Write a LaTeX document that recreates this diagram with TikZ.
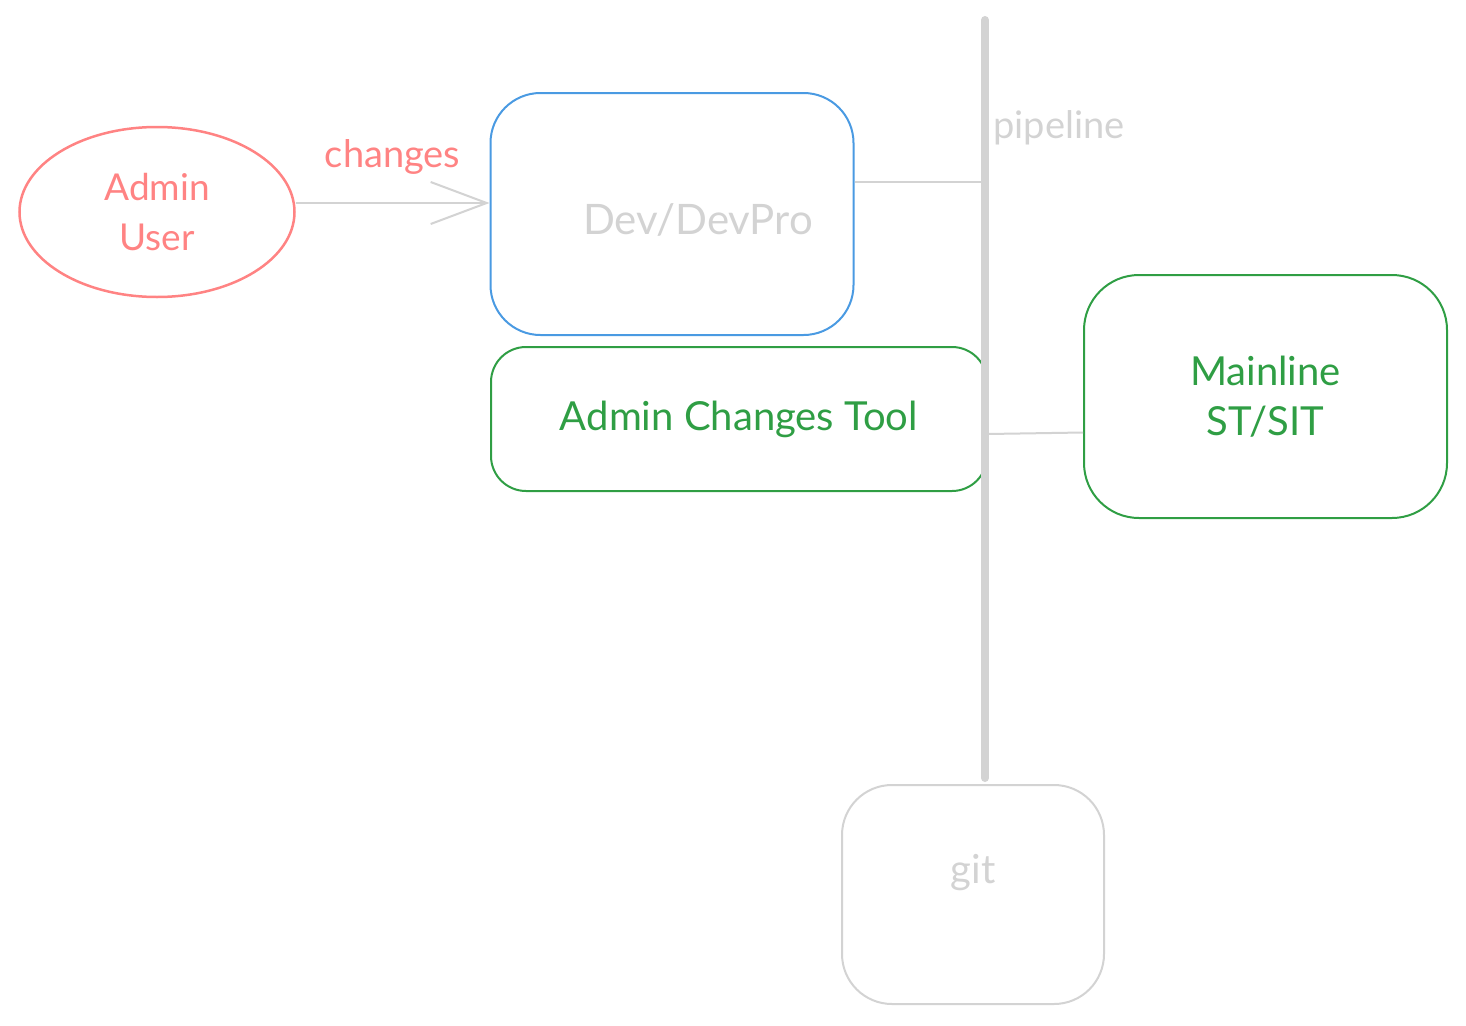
\documentclass[tikz,border=0pt]{standalone}
\usepackage{fontspec}
\setmainfont{Lato}
\usetikzlibrary{arrows.meta,shapes.geometric}
\definecolor{red}{HTML}{FF8383}
\definecolor{green}{HTML}{2F9E44}
\definecolor{blue}{HTML}{4A9AE2}
\definecolor{lightgray}{HTML}{D3D3D3}
\tikzstyle{box} = [draw, line width=2pt, align=center, inner sep=0pt, font=\fontsize{40}{50}\selectfont]
\tikzstyle{wire} = [draw=lightgray, line width=2pt]
\tikzstyle{note} = [font=\fontsize{38}{44}\selectfont]

\begin{document}
\begin{tikzpicture}[x=1pt, y=-1pt]
\useasboundingbox (0,0) rectangle (1466,1025);

% user and environments
\node[ellipse, draw=red, text=red, line width=2.5pt, minimum width=275pt, minimum height=170pt,
	align=center, font=\fontsize{37}{50}\selectfont] (user) at (157,212) {Admin\\User};
\node[box, draw=blue, minimum width=363pt, minimum height=242pt, rounded corners=50pt,
	label={[text=lightgray, font=\fontsize{42}{50}\selectfont, xshift=26pt, yshift=-6pt]center:Dev/DevPro}] (dev) at (672,214) {};
\node[box, draw=green, text=green, minimum width=496pt, minimum height=144pt, rounded corners=35pt] (act) at (739,419) {Admin Changes Tool};
\node[box, draw=green, text=green, minimum width=363pt, minimum height=243pt, rounded corners=55pt] (main) at (1265.5,396.5) {Mainline\\ST/SIT};
\node[box, draw=lightgray, minimum width=262pt, minimum height=219pt, rounded corners=50pt,
	label={[text=lightgray, font=\fontsize{40}{40}\selectfont, yshift=22pt]center:git}] (git) at (973,894.5) {};

% pipeline
\coordinate (ptop) at (985,20);
\coordinate (pbot) at (985,778);
\node[note, text=lightgray, anchor=west] (plabel) at (990,128) {pipeline};

% connectors
\draw[wire, -{Straight Barb[length=56pt, width=42pt]}] ([yshift=9pt]user.east) -- ([yshift=11pt]dev.west)
	node[midway, above=24pt, note, text=red] {changes};
\draw[wire] ([yshift=32pt]dev.east) -- ([yshift=32pt]dev.east -| ptop);
\draw[wire] ([yshift=-15pt]act.east) -- ([yshift=-36pt]main.west);
\draw[lightgray, line width=8pt, line cap=round] (ptop) -- (pbot);
\end{tikzpicture}
\end{document}
